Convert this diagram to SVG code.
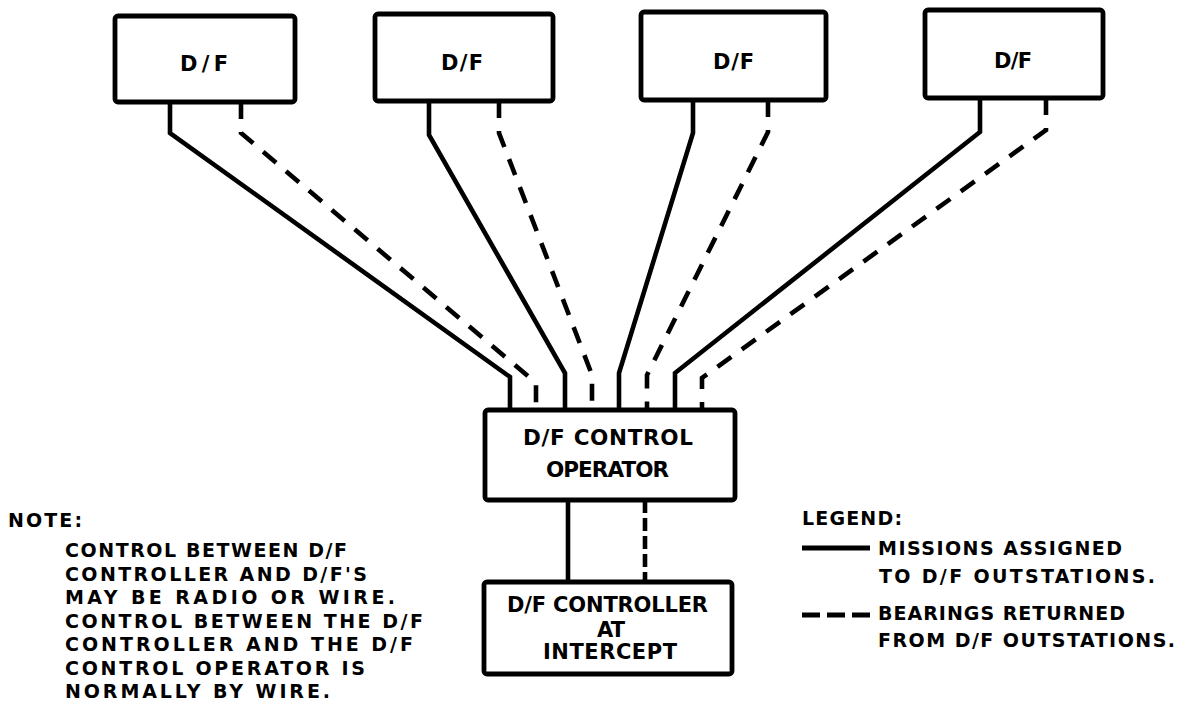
<svg xmlns="http://www.w3.org/2000/svg" width="1180" height="706" viewBox="0 0 1180 706">
<style>
.box{fill:#fff;stroke:#000;stroke-width:4.8}
.t{font-family:"DejaVu Sans","Liberation Sans",Arial,sans-serif;font-weight:bold;fill:#000}
.solid{fill:none;stroke:#000;stroke-width:4.6;stroke-linejoin:miter}
.dash{fill:none;stroke:#000;stroke-width:4.6;stroke-dasharray:17 13}
.vdash{fill:none;stroke:#000;stroke-width:4.6;stroke-dasharray:13 5}
</style>
<rect width="1180" height="706" fill="#fff"/>
<g id="connectors">
<path class="solid" d="M170,102 V133 L510,377 V410"/>
<path class="dash" d="M241,102 V133 L536,383 V410"/>
<path class="solid" d="M429,101 V135 L565,373 V410"/>
<path class="dash" d="M499,101 V133 L592,375 V410"/>
<path class="solid" d="M693,100 V133 L619,373 V410"/>
<path class="dash" d="M768,100 V132 L647,375 V410"/>
<path class="solid" d="M980,98 V132 L675,373 V410"/>
<path class="dash" d="M1046,98 V130 L702,378 V410"/>
<path class="solid" d="M568,500 V582"/>
<path class="vdash" d="M645,500 V582"/>
</g>
<g id="df1"><rect class="box" x="115" y="16" width="180" height="86" rx="3"/><text class="t" x="180" y="71" font-size="21" textLength="48" lengthAdjust="spacing">D/F</text></g>
<g id="df2"><rect class="box" x="375" y="14" width="178" height="87" rx="3"/><text class="t" x="441" y="70" font-size="21" textLength="42" lengthAdjust="spacing">D/F</text></g>
<g id="df3"><rect class="box" x="641" y="12" width="185" height="88" rx="3"/><text class="t" x="713" y="69" font-size="21" textLength="41" lengthAdjust="spacing">D/F</text></g>
<g id="df4"><rect class="box" x="925" y="10" width="178" height="88" rx="3"/><text class="t" x="994" y="68" font-size="21" textLength="38" lengthAdjust="spacing">D/F</text></g>
<g id="control-operator"><rect class="box" x="485" y="410" width="250" height="90" rx="3"/>
<text class="t" x="523" y="445" font-size="21.5" textLength="170" lengthAdjust="spacing">D/F CONTROL</text>
<text class="t" x="546" y="477" font-size="21.5" textLength="123" lengthAdjust="spacing">OPERATOR</text></g>
<g id="controller"><rect class="box" x="484" y="582" width="248" height="92" rx="3"/>
<text class="t" x="507" y="612" font-size="21" textLength="201" lengthAdjust="spacing">D/F CONTROLLER</text>
<text class="t" x="597" y="637" font-size="21" textLength="28" lengthAdjust="spacing">AT</text>
<text class="t" x="543" y="659" font-size="21" textLength="134" lengthAdjust="spacing">INTERCEPT</text></g>
<g id="note" class="t" font-size="19">
<text x="8" y="527" textLength="74" lengthAdjust="spacing">NOTE:</text>
<text x="65" y="557" textLength="282" lengthAdjust="spacing">CONTROL BETWEEN D/F</text>
<text x="65" y="580.5" textLength="302" lengthAdjust="spacing">CONTROLLER AND D/F'S</text>
<text x="65" y="604" textLength="330" lengthAdjust="spacing">MAY BE RADIO OR WIRE.</text>
<text x="65" y="627.5" textLength="358" lengthAdjust="spacing">CONTROL BETWEEN THE D/F</text>
<text x="65" y="651" textLength="348" lengthAdjust="spacing">CONTROLLER AND THE D/F</text>
<text x="65" y="674.5" textLength="300" lengthAdjust="spacing">CONTROL OPERATOR IS</text>
<text x="65" y="698" textLength="265" lengthAdjust="spacing">NORMALLY BY WIRE.</text>
</g>
<g id="legend">
<g class="t" font-size="19">
<text x="802" y="525" textLength="100" lengthAdjust="spacing">LEGEND:</text>
<text x="878" y="555" textLength="244" lengthAdjust="spacing">MISSIONS ASSIGNED</text>
<text x="879" y="583" textLength="276" lengthAdjust="spacing">TO D/F OUTSTATIONS.</text>
<text x="878" y="620" textLength="247" lengthAdjust="spacing">BEARINGS RETURNED</text>
<text x="878" y="647" textLength="297" lengthAdjust="spacing">FROM D/F OUTSTATIONS.</text>
</g>
<line x1="802" y1="548" x2="870" y2="548" stroke="#000" stroke-width="5"/>
<line x1="802" y1="615" x2="870" y2="615" stroke="#000" stroke-width="5" stroke-dasharray="18 7"/>
</g>
</svg>
